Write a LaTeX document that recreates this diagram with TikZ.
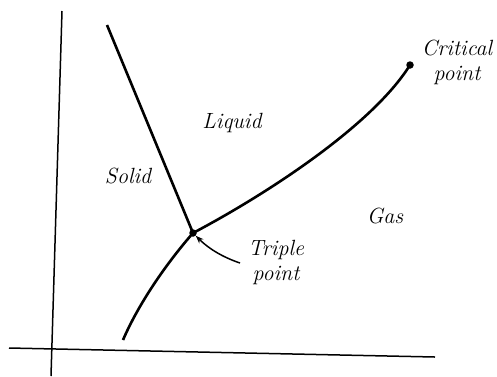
\documentclass[tikz,border=0pt]{standalone}
\usetikzlibrary{arrows.meta}
\begin{document}
\begin{tikzpicture}[x=1pt,y=-1pt,
  axis/.style={line width=1.5pt},
  phase/.style={line width=2.6pt},
  dot/.style={circle,fill=black,inner sep=0pt,minimum size=7.5pt},
  lbl/.style={font=\fontsize{22}{25}\selectfont\itshape,inner sep=0pt,align=center}]
\useasboundingbox (0,0) rectangle (497,376);
% axes
\coordinate (vtop) at (62,11);
\coordinate (vbot) at (51,376);
\coordinate (hl) at (9,348);
\coordinate (hr) at (435,357);
\draw[axis] (vtop) -- (vbot);
\draw[axis] (hl) -- (hr);
% points
\node[dot] (tp) at (193,233) {};
\node[dot] (cp) at (410,65) {};
\coordinate (melttop) at (107,25);
\coordinate (sublow) at (123,340);
% phase boundaries
\draw[phase] (melttop) -- (tp.center);
\draw[phase] (tp.center) .. controls (265,195) and (372,126) .. (cp.center);
\draw[phase] (tp.center) .. controls (165,265) and (138,305) .. (sublow);
% labels
\node[lbl] (liquid) at (232,123) {Liquid};
\node[lbl] (solid) at (128,176) {Solid};
\node[lbl] (gas) at (385,216) {Gas};
\node[lbl] (crit) at (457,62) {Critical\\point};
\node[lbl] (trip) at (276,262) {Triple\\point};
% arrow
\coordinate (astart) at (240,263);
\draw[line width=1.5pt,-{Stealth[length=8pt,width=6pt]}] (astart) .. controls (222,257) and (208,248) .. (tp);
\end{tikzpicture}
\end{document}
